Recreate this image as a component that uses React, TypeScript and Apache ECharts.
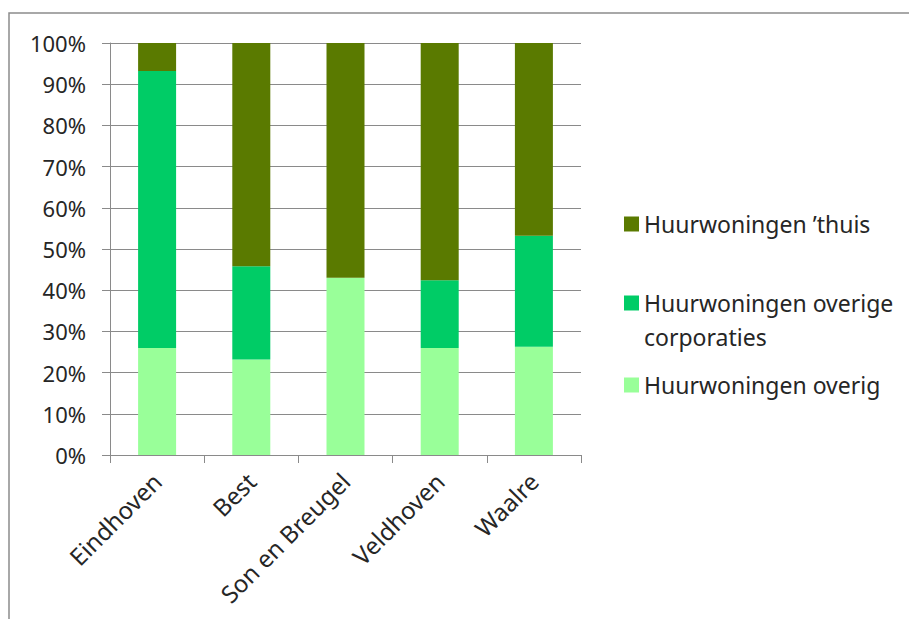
import React, { useEffect, useRef } from "react";
import * as echarts from "echarts";

const categories = ["Eindhoven", "Best", "Son en Breugel", "Veldhoven", "Waalre"];
const overig = [26.0, 23.2, 43.0, 26.0, 26.3];
const overigeCorporaties = [67.2, 22.6, 0, 16.4, 26.9];
const thuis = [6.8, 54.2, 57.0, 57.6, 46.8];
const seriesNames = [
  "Huurwoningen \u2019thuis",
  "Huurwoningen overige\ncorporaties",
  "Huurwoningen overig",
];
const seriesColors = ["#5A7A00", "#00CC66", "#99FF99"];

const FONT = "Noto Sans";
const TXT = "#262626";
const AX = "#8a8a8a";

export default function App() {
  const ref = useRef<HTMLDivElement>(null);
  useEffect(() => {
    if (!ref.current) return;
    const chart = echarts.init(ref.current, undefined, { renderer: "svg" });
    const legendBase = {
      orient: "vertical",
      left: 624,
      padding: 0,
      itemWidth: 15,
      itemHeight: 15,
      icon: "rect",
      selectedMode: false,
      textStyle: { fontFamily: FONT, fontSize: 23, color: TXT, lineHeight: 28 },
    };
    chart.setOption({
      animation: false,
      backgroundColor: "#ffffff",
      graphic: [
        {
          type: "rect",
          shape: { x: 9, y: 13, width: 1000, height: 800 },
          style: { fill: "none", stroke: "#8c8c8c", lineWidth: 1.5 },
          silent: true,
        },
      ],
      legend: [
        { ...legendBase, top: 210, data: [seriesNames[0]] },
        {
          ...legendBase,
          top: 252,
          data: [seriesNames[1]],
          formatter: (name: string) => " \n" + name,
          textStyle: { ...legendBase.textStyle, lineHeight: 34 },
        },
        { ...legendBase, top: 371, data: [seriesNames[2]] },
      ],
      grid: { left: 110, top: 43, width: 471, height: 412 },
      xAxis: {
        type: "category",
        data: categories,
        axisLine: { lineStyle: { color: AX, width: 1 } },
        axisTick: { show: true, length: 8, alignWithLabel: false, lineStyle: { color: AX } },
        axisLabel: {
          rotate: 45,
          interval: 0,
          margin: 22,
          padding: [27, 0, 0, 0],
          fontFamily: FONT,
          fontSize: 24,
          color: TXT,
        },
      },
      yAxis: {
        type: "value",
        min: 0,
        max: 100,
        interval: 10,
        axisLine: { show: true, lineStyle: { color: AX, width: 1 } },
        axisTick: { show: true, length: 8, lineStyle: { color: AX } },
        splitLine: { show: true, lineStyle: { color: AX, width: 1 } },
        axisLabel: {
          formatter: "{value}%",
          margin: 24,
          fontFamily: FONT,
          fontSize: 22,
          color: TXT,
        },
      },
      series: [
        {
          name: seriesNames[2],
          type: "bar",
          stack: "total",
          data: overig,
          barWidth: 38,
          itemStyle: { color: seriesColors[2] },
        },
        {
          name: seriesNames[1],
          type: "bar",
          stack: "total",
          data: overigeCorporaties,
          barWidth: 38,
          itemStyle: { color: seriesColors[1] },
        },
        {
          name: seriesNames[0],
          type: "bar",
          stack: "total",
          data: thuis,
          barWidth: 38,
          itemStyle: { color: seriesColors[0] },
        },
      ],
    });
    return () => chart.dispose();
  }, []);
  return (
    <div
      ref={ref}
      style={{ position: "absolute", left: 0, top: 0, width: 909, height: 619 }}
    />
  );
}
